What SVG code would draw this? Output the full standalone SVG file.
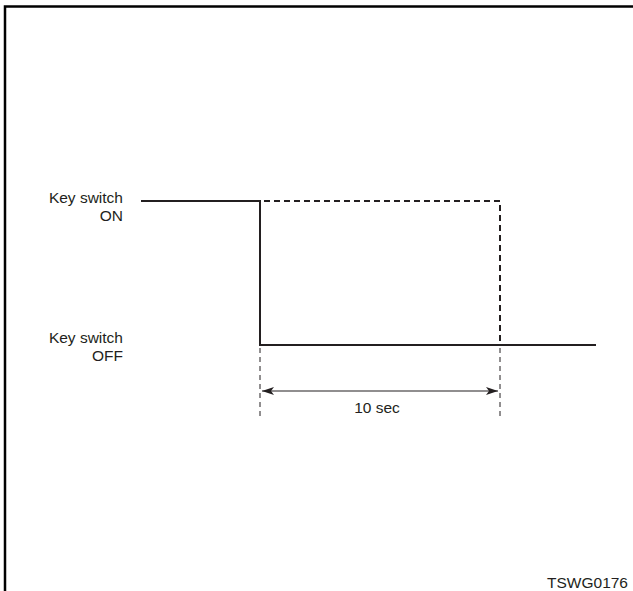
<svg xmlns="http://www.w3.org/2000/svg" width="633" height="591" viewBox="0 0 633 591">
<style>
text{font-family:"Liberation Sans",Arial,sans-serif;font-size:15.5px;fill:#231f20}
.solid{fill:none;stroke:#231f20;stroke-width:2}
.dash{fill:none;stroke:#231f20;stroke-width:2;stroke-dasharray:6,4}
.thin{fill:none;stroke:#231f20;stroke-width:1;stroke-dasharray:5,4}
.arr{fill:none;stroke:#231f20;stroke-width:1.2}
</style>
<defs>
<marker id="ah" viewBox="0 0 12 8" refX="12" refY="4" markerWidth="12" markerHeight="8" markerUnits="userSpaceOnUse" orient="auto-start-reverse">
<path d="M0,0 L12,4 L0,8 L3,4 Z" fill="#231f20"/>
</marker>
</defs>
<rect width="633" height="591" fill="#fff"/>
<path d="M5,591 V6.5 H633" fill="none" stroke="#000" stroke-width="2.5"/>
<g id="labels">
<text x="123" y="203" text-anchor="end">Key switch</text>
<text x="123" y="221" text-anchor="end">ON</text>
<text x="123" y="343" text-anchor="end">Key switch</text>
<text x="123" y="361" text-anchor="end">OFF</text>
<text x="377" y="413" text-anchor="middle">10 sec</text>
<text x="628" y="588" text-anchor="end">TSWG0176</text>
</g>
<g id="connectors">
<path class="solid" d="M141,201 H260 V345 H596"/>
<path class="dash" d="M264,201 H500 V345"/>
<path class="thin" d="M260,348 V416"/>
<path class="thin" d="M500,348 V416"/>
<path class="arr" d="M262,391 H498" marker-start="url(#ah)" marker-end="url(#ah)"/>
</g>
</svg>
